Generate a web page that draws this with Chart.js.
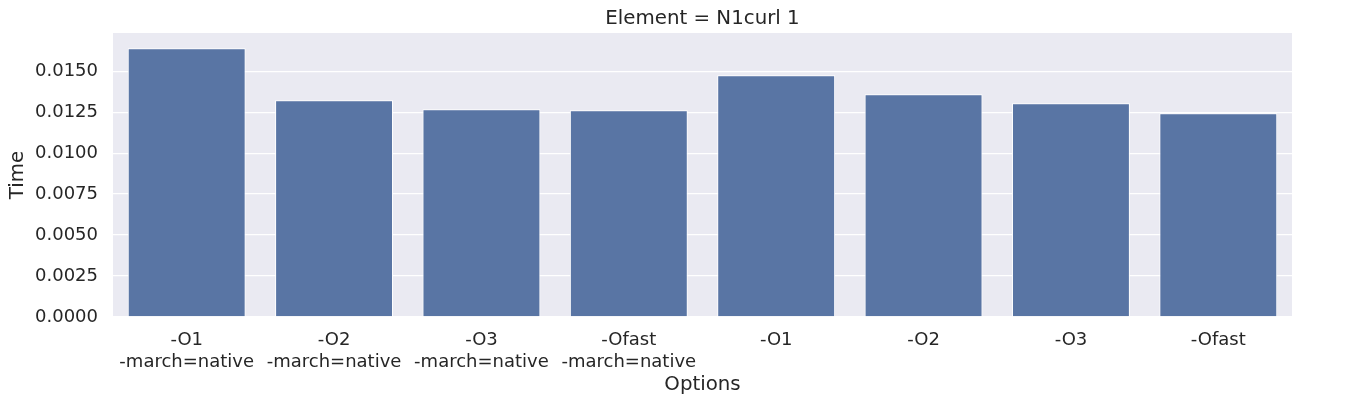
<!DOCTYPE html>
<html>
<head>
<meta charset="utf-8">
<script src="https://cdn.jsdelivr.net/npm/chart.js@4/dist/chart.umd.min.js"></script>
<style>
  html, body { margin: 0; padding: 0; background: #fff; }
  #wrap { width: 1354px; height: 405px; }
</style>
</head>
<body>
<div id="wrap"><canvas id="timeChart" width="1354" height="405"></canvas></div>
<script>
// Options on the x axis (two lines for the -march=native ones)
const options = [
    ['-O1', '-march=native'],
    ['-O2', '-march=native'],
    ['-O3', '-march=native'],
    ['-Ofast', '-march=native'],
    '-O1',
    '-O2',
    '-O3',
    '-Ofast'
];

// Time per option
const times = [0.0164, 0.01323, 0.01268, 0.01262, 0.01476, 0.0136, 0.01305, 0.01244];

// y ticks
const yTicks = [0, 0.0025, 0.005, 0.0075, 0.01, 0.0125, 0.015];
const yMax = 0.01734;

const textColor = '#262626';
const font = 'DejaVu Sans';

// seaborn darkgrid background behind the plot
const plotBackground = {
    id: 'plotBackground',
    beforeDraw(chart) {
        const { ctx, chartArea } = chart;
        ctx.save();
        ctx.fillStyle = '#EAEAF2';
        ctx.fillRect(chartArea.left, chartArea.top, chartArea.right - chartArea.left, chartArea.bottom - chartArea.top);
        ctx.restore();
    }
};

const ctx = document.getElementById('timeChart').getContext('2d');
new Chart(ctx, {
    type: 'bar',
    data: {
        labels: options,
        datasets: [{
            label: 'Time',
            data: times,
            backgroundColor: '#5975A4',
            borderColor: '#ffffff',
            borderWidth: 1,
            categoryPercentage: 0.8,
            barPercentage: 1.0
        }]
    },
    options: {
        responsive: false,
        animation: false,
        layout: { padding: { left: 0, right: 62, top: 0, bottom: 0 } },
        plugins: {
            legend: { display: false },
            tooltip: { enabled: false },
            title: {
                display: true,
                text: 'Element = N1curl 1',
                color: textColor,
                fullSize: false,
                font: { family: font, size: 19.8, weight: 'normal' },
                padding: { top: 7, bottom: 2.2 }
            }
        },
        scales: {
            x: {
                grid: { display: false, drawTicks: false },
                border: { display: false },
                ticks: {
                    color: textColor,
                    padding: 13,
                    maxRotation: 0,
                    autoSkip: false,
                    font: { family: font, size: 18, lineHeight: 1.2 }
                },
                title: {
                    display: true,
                    text: 'Options',
                    color: textColor,
                    font: { family: font, size: 19.8 },
                    padding: { top: 1, bottom: 8 }
                },
                afterFit(scale) { scale.height = 88; }
            },
            y: {
                min: 0,
                max: yMax,
                grid: { color: '#ffffff', lineWidth: 1.3, drawTicks: false },
                border: { display: false },
                afterBuildTicks(scale) {
                    scale.ticks = yTicks.map(v => ({ value: v }));
                },
                ticks: {
                    color: textColor,
                    padding: 15,
                    font: { family: font, size: 18 },
                    callback: function(value) {
                        return Number(value).toFixed(4);
                    }
                },
                title: {
                    display: true,
                    text: 'Time',
                    color: textColor,
                    font: { family: font, size: 19.8 },
                    padding: { top: 6, bottom: 0 }
                },
                afterFit(scale) { scale.width = 113; }
            }
        }
    },
    plugins: [plotBackground]
});
</script>
</body>
</html>
